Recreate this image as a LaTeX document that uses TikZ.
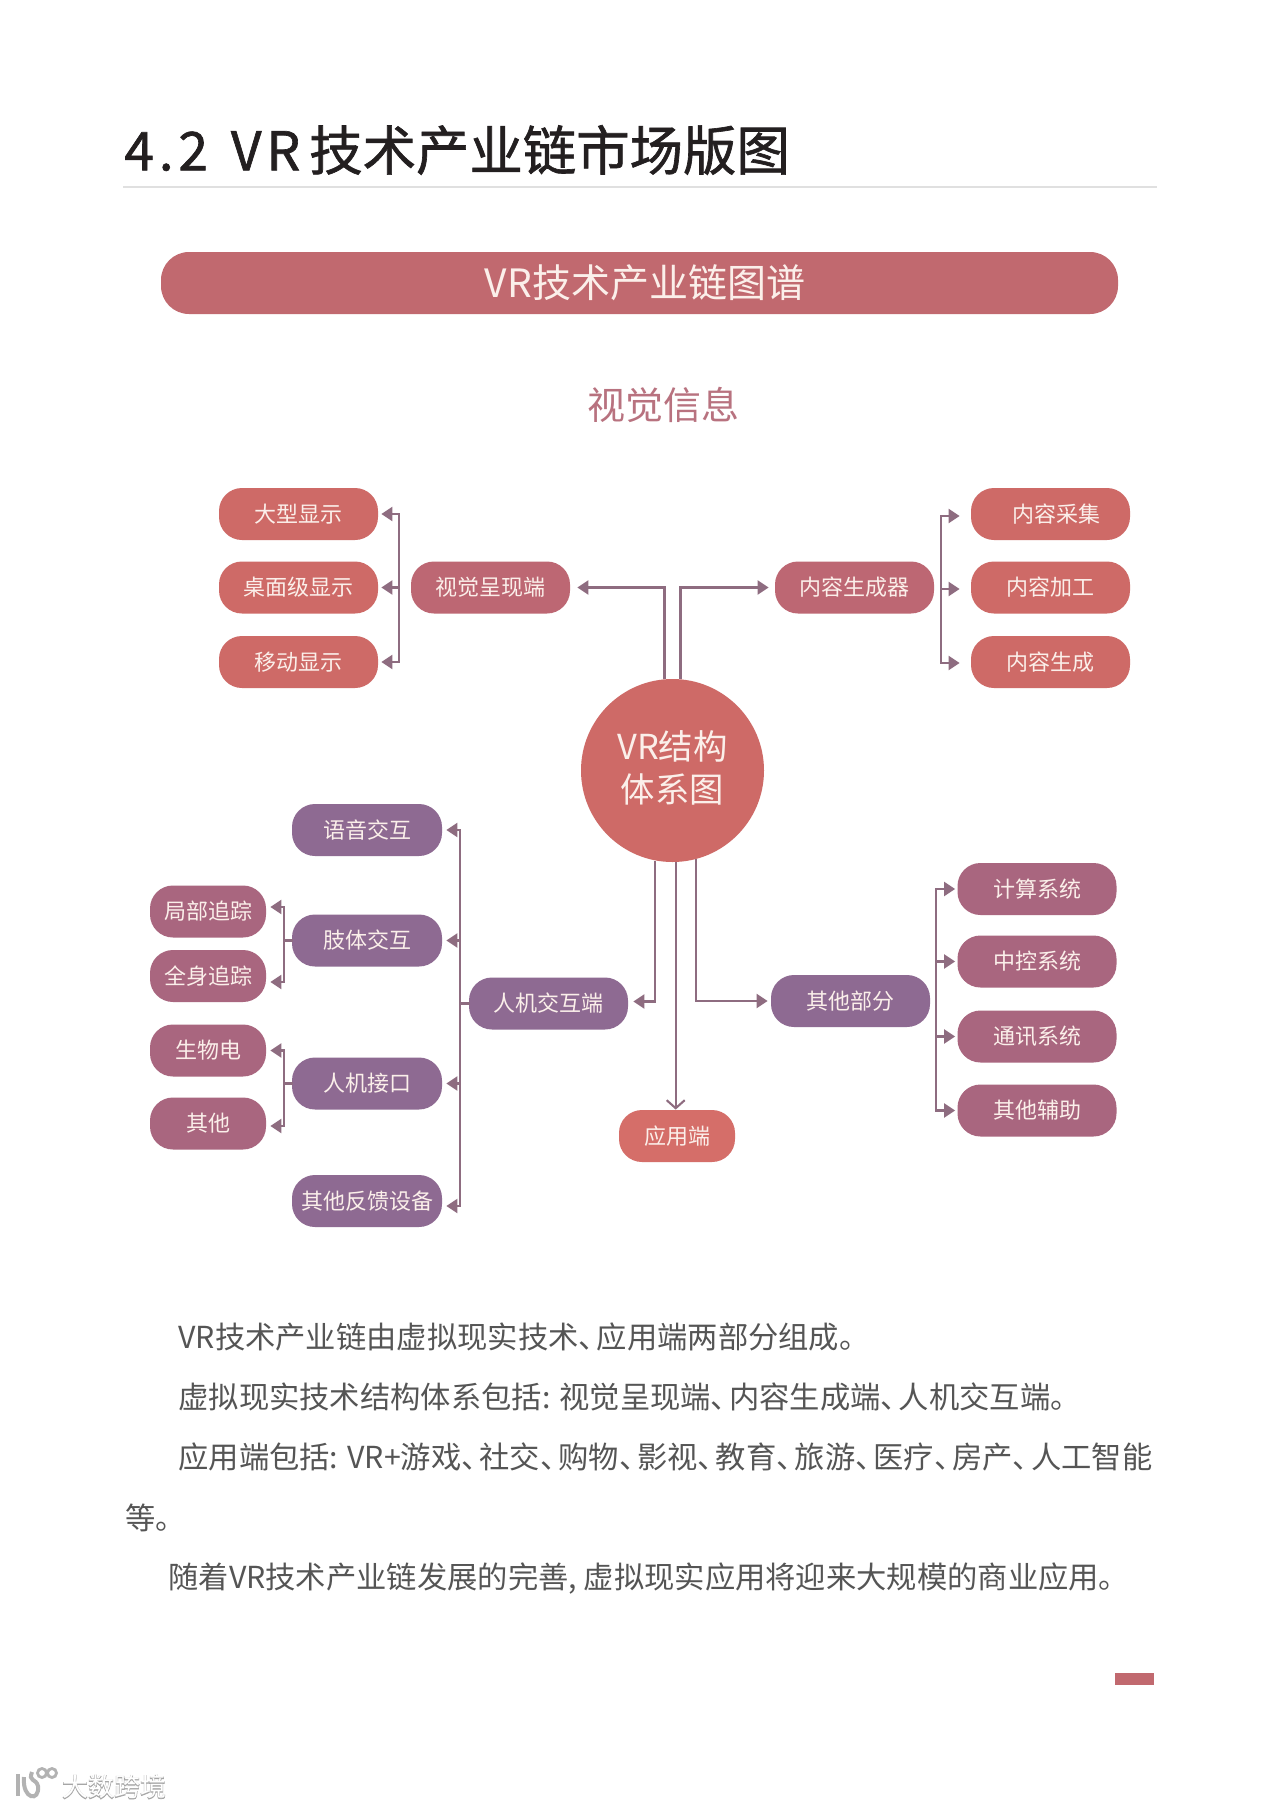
\documentclass[tikz,border=0pt]{standalone}
\usepackage{fontspec}
\setmainfont{Noto Sans CJK SC}
\usetikzlibrary{arrows.meta}
\definecolor{titleink}{HTML}{231F20}
\definecolor{bodyink}{HTML}{555555}
\definecolor{rosefill}{HTML}{C1696F}
\definecolor{rosetext}{HTML}{B8727F}
\definecolor{salmonfill}{HTML}{CE6A67}
\definecolor{coralfill}{HTML}{D56E69}
\definecolor{dustyfill}{HTML}{BD6773}
\definecolor{plumfill}{HTML}{8E6A92}
\definecolor{mauvefill}{HTML}{A9667F}
\definecolor{linkink}{HTML}{8E6C80}
\definecolor{paleink}{HTML}{FBEFEA}
\newcommand{\dun}{、\kern-0.4em}
\tikzset{
  pillbox/.style={rounded corners=11.5pt, inner sep=0pt, text=paleink, minimum height=26pt,
    font=\fontsize{11}{13}\selectfont},
  bigpill/.style={pillbox, minimum width=79.5pt},
  midpill/.style={pillbox, minimum width=75pt},
  smallpill/.style={pillbox, minimum width=58pt},
  trunk/.style={draw=linkink, line width=1.05pt, line cap=rect},
  link/.style={draw=linkink, line width=1.05pt, -{Triangle[length=5.5pt,width=7pt]}},
  bodyline/.style={anchor=west, inner sep=0pt, text=bodyink, font=\fontsize{15.15}{18}\selectfont},
}
\begin{document}
\begin{tikzpicture}[x=0.5pt,y=-0.5pt]
  \fill[white] (0,0) rectangle (1280,1809);
  \useasboundingbox (0,0) rectangle (1280,1809);
  % heading
  \node[anchor=west, inner sep=0pt, text=titleink, font=\fontsize{26.7}{30}\selectfont] (heading) at (124,150)
    {\addfontfeature{FakeBold=1.2}{\addfontfeature{LetterSpace=9}4.2\hspace{3pt} VR}\hspace{4.5pt}技术产业链市场版图};
  \fill[black!12] (123,186) rectangle (1157,188);
  \node[fill=rosefill, rounded corners=14pt, minimum width=478.5pt, minimum height=31pt, inner sep=0pt] (banner) at (639.5,283) {};
  \node[text=paleink, inner sep=0pt, font=\fontsize{19.5}{22}\selectfont] (bannertext) at (645,283) {VR技术产业链图谱};
  \node[text=rosetext, inner sep=0pt, font=\fontsize{19}{22}\selectfont] (visual) at (663,405) {视觉信息};
  % centre
  \node[circle, fill=salmonfill, minimum size=91.5pt, inner sep=0pt] (hub) at (672.5,770.5) {};
  \node[inner sep=0pt, text=paleink, align=center, font=\fontsize{17.2}{21.5}\selectfont] (hubtext) at (672.5,768) {VR结构\\体系图};
  % top left
  \node[bigpill, fill=dustyfill] (disp) at (490.5,587.5) {视觉呈现端};
  \foreach \n/\y/\t in {big/514/大型显示,desk/587.5/桌面级显示,move/662/移动显示}{
    \node[bigpill, fill=salmonfill] (\n) at (298.5,\y) {\t};
  }
  \coordinate (bardisp) at (399,587.5);
  \draw[trunk] (bardisp |- big.east) -- (bardisp |- move.east);
  \foreach \n in {big,desk,move}{
    \draw[link] (bardisp |- \n.east) -- ([xshift=1.5pt]\n.east);
  }
  % top right
  \node[bigpill, fill=dustyfill] (gen) at (854.5,587.5) {内容生成器};
  \node[bigpill, fill=salmonfill] (pick) at (1050.5,514) {\hspace{6pt}内容采集};
  \node[bigpill, fill=salmonfill] (edit) at (1050.5,587.5) {内容加工};
  \node[bigpill, fill=salmonfill] (make) at (1050.5,662) {内容生成};
  \coordinate (bargen) at (941,589);
  \draw[trunk] ([yshift=-1pt]bargen |- pick.west) -- ([yshift=-0.5pt]bargen |- make.west);
  \foreach \n/\dy in {pick/-1,edit/-0.75,make/-0.5}{
    \draw[link] ([yshift=\dy pt]bargen |- \n.west) -- ([xshift=-5.5pt,yshift=\dy pt]\n.west);
  }
  % right
  \node[bigpill, fill=plumfill] (other) at (850.5,1001) {其他部分};
  \foreach \n/\y/\t in {calc/889/计算系统,ctrl/961.5/中控系统,comm/1036.5/通讯系统,aid/1110.5/其他辅助}{
    \node[bigpill, fill=mauvefill] (\n) at (1037,\y) {\t};
  }
  \coordinate (barother) at (936,1001);
  \draw[trunk] (barother |- calc.west) -- (barother |- aid.west);
  \foreach \n in {calc,ctrl,comm,aid}{
    \draw[link] (barother |- \n.west) -- ([xshift=-1pt]\n.west);
  }
  % bottom
  \node[smallpill, fill=coralfill] (app) at (677,1136) {应用端};
  % left
  \node[bigpill, fill=plumfill] (hci) at (548.5,1003.5) {人机交互端};
  \foreach \n/\y/\t in {voice/830/语音交互,limb/940.5/肢体交互,port/1083.5/人机接口,back/1201/其他反馈设备}{
    \node[midpill, fill=plumfill] (\n) at (367,\y) {\t};
  }
  \foreach \n/\y/\t in {local/911.5/局部追踪,whole/976/全身追踪,bio/1050.5/生物电,misc/1123.5/其他}{
    \node[smallpill, fill=mauvefill] (\n) at (208,\y) {\t};
  }
  \coordinate (barhci) at (460,1003.5);
  \draw[trunk] (barhci |- voice.east) -- ([yshift=-2.5pt]barhci |- back.east);
  \draw[trunk] (hci.west) -- (barhci);
  \foreach \n/\dy in {voice/0,limb/0,port/0,back/-2.5}{
    \draw[link] ([yshift=\dy pt]barhci |- \n.east) -- ([xshift=2pt,yshift=\dy pt]\n.east);
  }
  \coordinate (barlimb) at (284,940.5);
  \draw[trunk] ([yshift=2.25pt]barlimb |- local.east) -- ([yshift=-3pt]barlimb |- whole.east);
  \draw[trunk] (limb.west) -- (barlimb);
  \foreach \n/\dy in {local/2.25,whole/-3}{
    \draw[link] ([yshift=\dy pt]barlimb |- \n.east) -- ([xshift=2pt,yshift=\dy pt]\n.east);
  }
  \coordinate (barport) at (284,1083.5);
  \draw[trunk] (barport |- bio.east) -- ([yshift=-1.25pt]barport |- misc.east);
  \draw[trunk] (port.west) -- (barport);
  \foreach \n/\dy in {bio/0,misc/-1.25}{
    \draw[link] ([yshift=\dy pt]barport |- \n.east) -- ([xshift=2pt,yshift=\dy pt]\n.east);
  }
  % from the centre
  \draw[link] ([shift={(-4pt,0pt)}]hub.north) |- ([xshift=3.5pt]disp.east);
  \draw[link] ([shift={(4pt,0pt)}]hub.north) |- ([xshift=-3pt]gen.west);
  \draw[link] (hub.259) |- ([xshift=2.5pt,yshift=1pt]hci.east);
  \draw[link] (hub.285) |- ([xshift=-1.5pt]other.west);
  \draw[draw=linkink, line width=1.05pt, -{Straight Barb[length=4pt,width=9pt]}] (hub.272) -- (hub.272 |- app.north);
  % text below
  \node[bodyline] (para1) at (178,1337) {VR技术产业链由虚拟现实技术\dun 应用端两部分组成。};
  \node[bodyline] (para2) at (178,1397) {虚拟现实技术结构体系包括: 视觉呈现端\dun 内容生成端\dun 人机交互端。};
  \node[bodyline] (para3) at (178,1457) {应用端包括: VR+游戏\dun 社交\dun 购物\dun 影视\dun 教育\dun 旅游\dun 医疗\dun 房产\dun 人工智能};
  \node[bodyline] (para4) at (125,1518) {等。};
  \node[bodyline] (para5) at (168,1578) {随着VR技术产业链发展的完善, 虚拟现实应用将迎来大规模的商业应用。};
  \fill[rosefill] (1115,1673) rectangle (1154,1685);
  % watermark
  \node[inner sep=0pt, text=black!35, font=\fontsize{13}{15}\selectfont] (markback) at (114,1787)
    {\addfontfeature{FakeBold=3}大数跨境};
  \node[inner sep=0pt, text=white, font=\fontsize{13}{15}\selectfont] (mark) at (114,1787) {大数跨境};
  \draw[black!30, line width=2pt] (18,1774) -- (18,1796);
  \draw[black!30, line width=2pt] (24,1777) .. controls (22,1800) and (40,1802) .. (38,1786) .. controls (36,1778) and (28,1782) .. (32,1772);
  \draw[black!30, line width=1.4pt] (42,1773) circle (4.5) (52,1773) circle (4.5);
\end{tikzpicture}
\end{document}
